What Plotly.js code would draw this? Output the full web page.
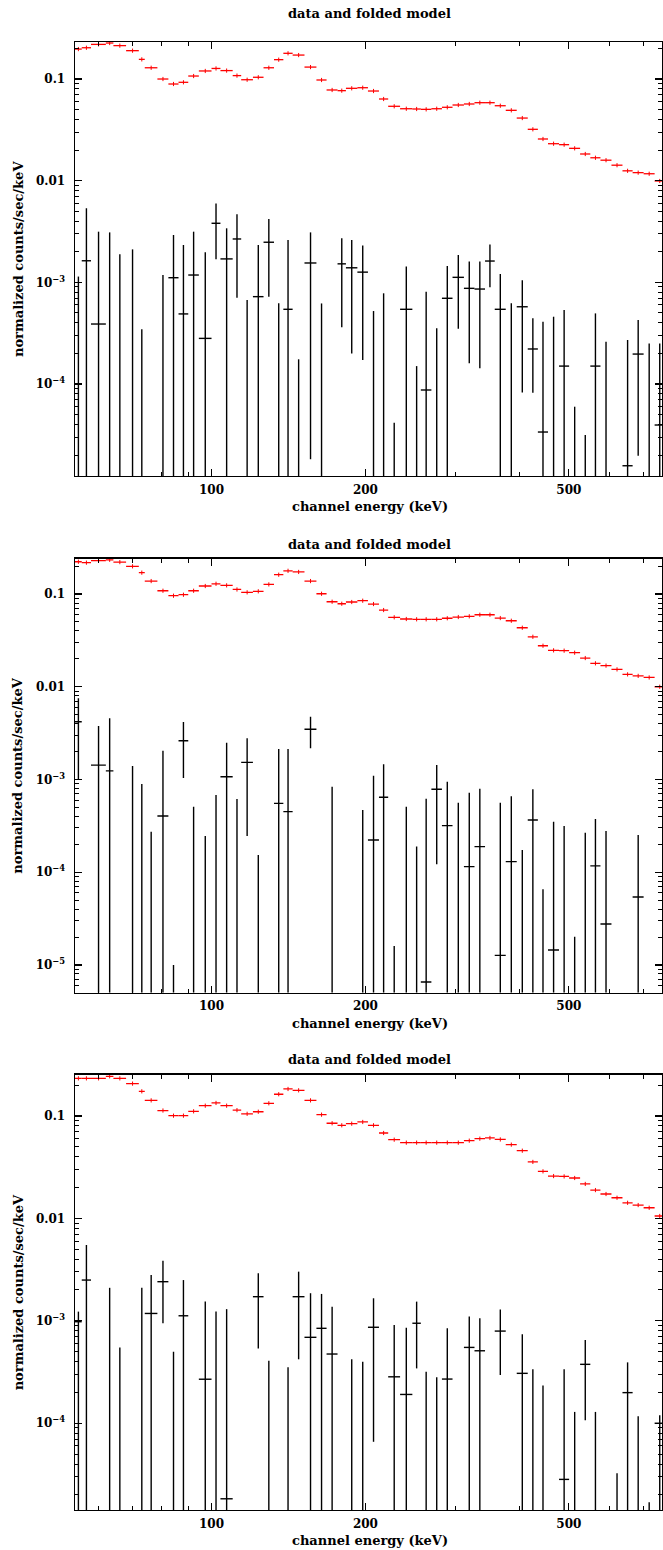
<!DOCTYPE html>
<html><head><meta charset="utf-8">
<script src="https://cdn.plot.ly/plotly-3.0.1.min.js"></script>
<style>html,body{margin:0;padding:0;background:#fff}</style>
</head><body><div id="chart" style="width:663px;height:1550px"></div>
<script>
// shared channel bins (keV)
const binEdges = [54.07,55.74,58.11,62.13,64.28,68.06,72.08,74.03,78.37,82.34,86.19,90.05,94.45,100.0,104.1,110.0,114.3,120.5,126.4,132.5,138.2,144.1,152.0,160.4,167.9,176.4,183.2,192.9,202.3,212.6,221.6,233.8,247.1,256.7,269.2,282.3,296.1,311.7,326.9,342.8,358.1,376.3,395.4,415.5,434.9,455.2,478.4,500.6,526.0,550.8,576.5,605.8,636.6,666.4,700.2,735.8,770.1];

// folded model (red)
const model1 = [0.197,0.203,0.219,0.226,0.213,0.190,0.156,0.129,0.100,0.0893,0.0928,0.107,0.120,0.127,0.121,0.108,0.0984,0.104,0.129,0.155,0.179,0.172,0.131,0.0978,0.078,0.0768,0.081,0.0821,0.0762,0.0636,0.0539,0.0510,0.0507,0.0503,0.0510,0.0527,0.0555,0.0568,0.0585,0.0585,0.0546,0.0492,0.0413,0.0320,0.0257,0.0231,0.0226,0.0208,0.0183,0.0168,0.0159,0.0142,0.0125,0.0120,0.0117,0.00993];
const model2 = [0.223,0.218,0.229,0.234,0.221,0.199,0.170,0.138,0.1085,0.0959,0.0983,0.1085,0.122,0.129,0.124,0.112,0.1043,0.107,0.127,0.1616,0.178,0.173,0.138,0.1007,0.0826,0.0786,0.082,0.0847,0.078,0.0672,0.0561,0.0538,0.0534,0.0534,0.0534,0.0548,0.0565,0.0575,0.0598,0.0598,0.0551,0.0515,0.0433,0.0346,0.0277,0.0247,0.0245,0.0233,0.0204,0.0179,0.0169,0.0154,0.0136,0.0131,0.0126,0.0100];
const model3 = [0.233,0.233,0.233,0.244,0.233,0.207,0.174,0.142,0.113,0.1007,0.1007,0.111,0.126,0.134,0.126,0.114,0.105,0.110,0.133,0.163,0.1835,0.178,0.142,0.103,0.0849,0.0811,0.0841,0.0874,0.0811,0.0682,0.0587,0.0549,0.0549,0.0549,0.0549,0.0549,0.0549,0.0574,0.0600,0.0610,0.0590,0.0525,0.0458,0.0356,0.0288,0.0259,0.0257,0.0248,0.0217,0.0189,0.0173,0.0159,0.0142,0.0135,0.0127,0.01055];

// data (black): value, upper end, lower end of error bar (null lower = runs off the bottom)
const data1Val = [null,1.63e-3,3.89e-4,null,null,null,null,null,null,1.11e-3,4.89e-4,1.18e-3,2.81e-4,3.81e-3,1.70e-3,2.67e-3,null,7.23e-4,2.48e-3,null,5.43e-4,null,1.55e-3,null,null,1.52e-3,1.39e-3,1.26e-3,null,null,null,5.43e-4,null,8.73e-5,null,6.97e-4,1.12e-3,8.73e-4,8.59e-4,1.62e-3,5.43e-4,null,5.75e-4,2.21e-4,3.37e-5,null,1.50e-4,null,null,1.50e-4,null,null,1.57e-5,1.97e-4,null,3.95e-5];
const data1Hi  = [1.14e-3,5.35e-3,3.15e-3,3.1e-3,1.89e-3,2.11e-3,3.45e-4,null,1.18e-3,2.92e-3,2.33e-3,3.15e-3,1.98e-3,5.98e-3,3.4e-3,4.67e-3,6.70e-4,2.33e-3,4.20e-3,6.22e-4,2.61e-3,1.75e-4,3.1e-3,6.2e-4,null,2.71e-3,2.61e-3,2.31e-3,5.22e-4,7.8e-4,4.16e-5,1.43e-3,1.50e-4,8.09e-4,3.53e-4,1.45e-3,1.86e-3,1.6e-3,1.6e-3,2.35e-3,1.21e-3,6.22e-4,1.05e-3,4.43e-4,4.1e-4,4.59e-4,5.35e-4,5.98e-5,3.15e-5,4.95e-4,2.61e-4,null,2.71e-4,4.27e-4,2.5e-4,2.5e-4];
const data1Lo  = [null,null,null,null,null,null,null,null,null,null,null,null,null,1.69e-3,null,7.06e-4,null,null,7.23e-4,null,null,null,1.82e-5,null,null,3.61e-4,2.0e-4,1.72e-4,null,null,null,null,null,null,null,null,3.5e-4,1.6e-4,1.43e-4,8.93e-4,null,null,8.27e-5,8.2e-5,null,null,null,null,null,null,null,null,null,1.97e-5,null,null];

const data2Val = [4.2e-3,null,1.43e-3,1.24e-3,null,null,null,null,4.04e-4,null,2.62e-3,null,null,null,1.07e-3,null,1.53e-3,null,null,5.53e-4,4.50e-4,null,3.48e-3,null,null,null,null,null,2.23e-4,6.43e-4,null,null,null,6.56e-6,7.84e-4,3.18e-4,null,1.15e-4,1.89e-4,null,1.27e-5,1.30e-4,null,3.66e-4,null,1.45e-5,null,null,null,1.17e-4,2.77e-5,null,null,5.41e-5,null,null];
const data2Hi  = [7.5e-3,null,3.78e-3,4.57e-3,null,1.40e-3,8.93e-4,2.74e-4,2.04e-3,1.0e-5,4.17e-3,5.09e-4,2.46e-4,6.81e-4,2.49e-3,6.17e-4,2.78e-3,1.53e-4,null,2.13e-3,2.13e-3,null,4.75e-3,null,8.35e-4,null,null,4.69e-4,1.10e-3,1.46e-3,1.6e-5,5.09e-4,1.89e-4,6.21e-4,1.43e-3,9.46e-4,5.62e-4,7.21e-4,7.96e-4,null,5.62e-4,6.59e-4,1.74e-4,7.84e-4,6.55e-5,3.51e-4,3.16e-4,2.02e-5,2.67e-4,3.75e-4,2.79e-4,null,null,2.52e-4,null,null];
const data2Lo  = [1.0e-3,null,null,null,null,null,null,null,null,null,1.04e-3,null,null,null,null,null,2.46e-4,null,null,null,null,null,2.17e-3,null,null,null,null,null,null,null,null,null,null,null,1.22e-4,null,null,null,null,null,null,null,null,null,null,null,null,null,null,null,null,null,null,null,null,null];

const data3Val = [9.8e-4,2.5e-3,null,null,null,null,null,1.18e-3,2.41e-3,null,1.12e-3,null,2.69e-4,null,1.83e-5,null,null,1.72e-3,null,null,null,1.72e-3,6.9e-4,8.45e-4,4.74e-4,null,null,null,8.65e-4,null,2.84e-4,1.91e-4,9.47e-4,null,null,2.70e-4,null,5.5e-4,5.1e-4,null,7.94e-4,null,3.07e-4,null,null,null,2.83e-5,null,3.76e-4,null,null,null,1.99e-4,null,null,1.0e-4];
const data3Hi  = [1.23e-3,5.5e-3,null,2.1e-3,5.5e-4,null,2.1e-3,2.8e-3,3.86e-3,4.99e-4,2.5e-3,null,1.54e-3,1.23e-3,1.30e-3,null,null,2.91e-3,4.07e-4,null,3.52e-4,3.02e-3,1.86e-3,1.83e-3,1.37e-3,null,4.21e-4,3.99e-4,1.66e-3,null,9.1e-4,8.57e-4,1.54e-3,3.18e-4,2.81e-4,8.45e-4,null,1.10e-3,1.06e-3,null,1.29e-3,null,7.38e-4,3.36e-4,2.34e-4,null,3.36e-4,1.29e-4,6.49e-4,1.29e-4,null,3.24e-5,3.93e-4,1.17e-4,1.69e-5,1.2e-4];
const data3Lo  = [null,null,null,null,null,null,null,null,9.47e-4,null,null,null,null,null,null,null,null,5.38e-4,null,null,null,4.21e-4,null,null,null,null,null,null,6.59e-5,null,null,null,3.43e-4,null,null,null,null,null,null,null,2.96e-4,null,null,null,null,null,null,null,1.07e-4,null,null,null,null,null,null,null];

// axes
const xTickVals = [100,200,500];
const xTickText = ['100','200','500'];
const xMinorVals = [60,70,80,90,300,400,600,700];
const yTickVals = [0.1,0.01,1e-3,1e-4,1e-5];
const yTickText = ['0.1','0.01','10<sup>\u22123</sup>','10<sup>\u22124</sup>','10<sup>\u22125</sup>'];
const yRanges = [[-4.905,-0.636],[-5.299,-0.619],[-4.847,-0.597]];
const yDomains = [[0.69290,0.97290],[0.35955,0.63955],[0.02581,0.30665]];
const xRange = [Math.log10(54.07), 2.8812];

const titleText = 'data and folded model';
const xTitleText = 'channel energy (keV)';
const yTitleText = 'normalized counts/sec/keV';

const FONT = '"DejaVu Serif", "Liberation Serif", serif';

const yMinorVals = [];
for (let e = -6; e <= 0; e++) for (let m = 2; m <= 9; m++) yMinorVals.push(m * Math.pow(10, e));

const panels = [
  {model: model1, val: data1Val, hi: data1Hi, lo: data1Lo},
  {model: model2, val: data2Val, hi: data2Hi, lo: data2Lo},
  {model: model3, val: data3Val, hi: data3Hi, lo: data3Lo}
];

const traces = [];
const layout = {
  width: 663, height: 1550,
  margin: {l: 75, r: 1, t: 0, b: 0},
  paper_bgcolor: '#fff', plot_bgcolor: '#fff',
  showlegend: false,
  font: {family: FONT, color: '#000', size: 12},
  annotations: []
};

panels.forEach((p, i) => {
  const sfx = i === 0 ? '' : String(i + 1);
  const xa = 'x' + sfx, ya = 'y' + sfx;
  const yBottom = Math.pow(10, yRanges[i][0]);
  const centers = [], mx = [], my = [];
  for (let k = 0; k < p.model.length; k++) {
    const lo = binEdges[k], hi = binEdges[k + 1];
    const c = (lo + hi) / 2;
    centers.push(c);
    mx.push(lo, hi, null); my.push(p.model[k], p.model[k], null);
  }
  // data segments
  const dx = [], dy = [];
  for (let k = 0; k < p.hi.length; k++) {
    if (p.hi[k] === null) continue;
    const c = centers[k];
    const bot = p.lo[k] === null ? yBottom : p.lo[k];
    dx.push(c, c, null); dy.push(bot, p.hi[k], null);
    if (p.val[k] !== null) {
      dx.push(binEdges[k], binEdges[k + 1], null); dy.push(p.val[k], p.val[k], null);
    }
  }
  traces.push({x: dx, y: dy, xaxis: xa, yaxis: ya, type: 'scatter', mode: 'lines',
    line: {color: '#000', width: 1.4}, hoverinfo: 'skip', connectgaps: false});
  traces.push({x: mx, y: my, xaxis: xa, yaxis: ya, type: 'scatter', mode: 'lines',
    line: {color: '#ff0000', width: 1.3}, hoverinfo: 'skip', connectgaps: false});
  traces.push({x: centers, y: p.model, xaxis: xa, yaxis: ya, type: 'scatter', mode: 'markers',
    marker: {symbol: 'line-ns', size: 3, line: {color: '#ff0000', width: 1}}, hoverinfo: 'skip'});

  layout['xaxis' + sfx] = {
    type: 'log', range: xRange, domain: [0, 1], anchor: ya,
    showline: true, linecolor: '#000', linewidth: 1.4, mirror: 'allticks',
    ticks: 'inside', ticklen: 7, tickwidth: 1.2, tickcolor: '#000',
    tickmode: 'array', tickvals: xTickVals, ticktext: xTickText,
    tickfont: {family: FONT, size: 12, color: '#000', weight: 'bold'},
    ticklabelstandoff: 2,
    minor: {tickmode: 'array', tickvals: xMinorVals, ticks: 'inside', ticklen: 4, tickwidth: 1, tickcolor: '#000', showgrid: false},
    showgrid: false, zeroline: false
  };
  layout['yaxis' + sfx] = {
    type: 'log', range: yRanges[i], domain: yDomains[i], anchor: xa,
    showline: true, linecolor: '#000', linewidth: 1.4, mirror: 'allticks',
    ticks: 'inside', ticklen: 7, tickwidth: 1.2, tickcolor: '#000',
    tickmode: 'array', tickvals: yTickVals, ticktext: yTickText,
    tickfont: {family: FONT, size: 12, color: '#000', weight: 'bold'},
    ticklabelstandoff: 6,
    minor: {tickmode: 'array', tickvals: yMinorVals, ticks: 'inside', ticklen: 4, tickwidth: 1, tickcolor: '#000', showgrid: false},
    showgrid: false, zeroline: false
  };
});

// titles (pixel positions -> paper coordinates)
const titleY = [0.99097, 0.64903, 0.31613];
const xTitleY = [0.67310, 0.33974, 0.00600];
const yTitleY = [0.83290, 0.49955, 0.16623];
for (let i = 0; i < 3; i++) {
  layout.annotations.push({text: '<b>' + titleText + '</b>', xref: 'paper', yref: 'paper', x: 0.502, y: titleY[i],
    xanchor: 'center', yanchor: 'middle', showarrow: false, font: {family: FONT, size: 13, color: '#000'}});
  layout.annotations.push({text: '<b>' + xTitleText + '</b>', xref: 'paper', yref: 'paper', x: 0.502, y: xTitleY[i],
    xanchor: 'center', yanchor: 'middle', showarrow: false, font: {family: FONT, size: 13, color: '#000'}});
  layout.annotations.push({text: '<b>' + yTitleText + '</b>', xref: 'paper', yref: 'paper', x: -0.0971, y: yTitleY[i],
    xanchor: 'center', yanchor: 'middle', textangle: -90, showarrow: false, font: {family: FONT, size: 13, color: '#000'}});
}

Plotly.newPlot('chart', traces, layout, {staticPlot: true, displayModeBar: false});
</script></body></html>
